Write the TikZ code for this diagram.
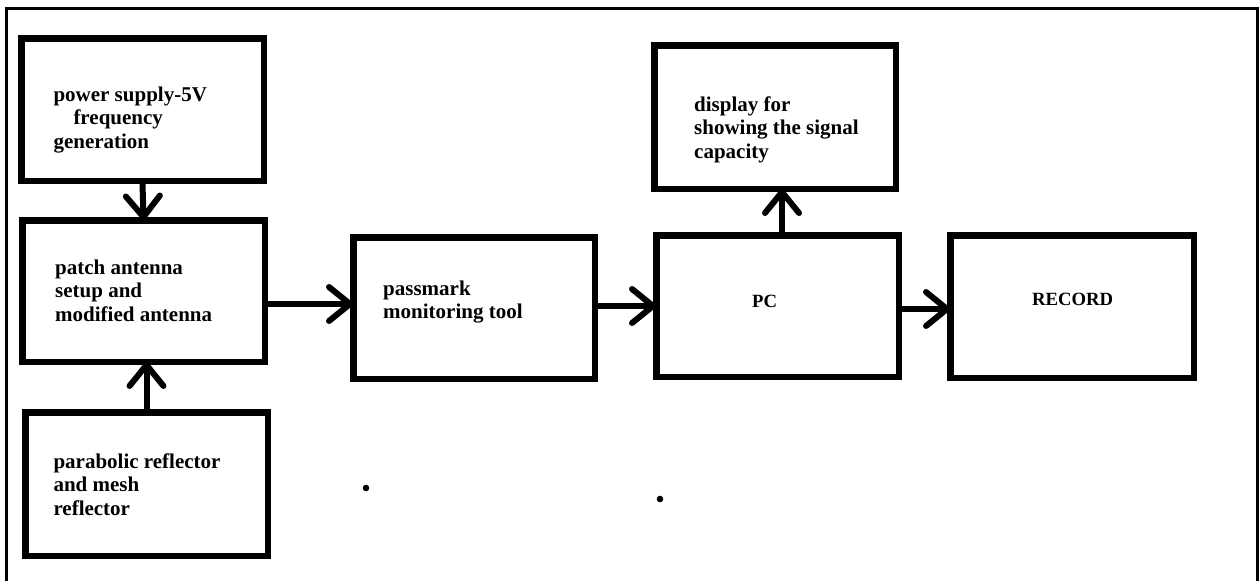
\documentclass[tikz,border=0pt]{standalone}
\usepackage{fontspec}
\setmainfont{Liberation Serif}
\usetikzlibrary{arrows.meta}
\begin{document}
\begin{tikzpicture}[x=1pt,y=-1pt,
  blockbox/.style={draw=black,line width=6.5pt,rectangle,inner sep=0pt,
    minimum width=#1},
  blockbox/.default=242.5pt,
  label text/.style={anchor=base west,inner sep=0pt,
    font=\fontsize{21}{23.5}\selectfont\bfseries},
  small text/.style={anchor=base west,inner sep=0pt,
    font=\fontsize{18.7}{22}\selectfont\bfseries},
  flow/.style={line width=6pt,shorten >=-3pt,
    -{Straight Barb[length=21pt,width=34pt,round]}},
  frame line/.style={line width=3pt}]
  \useasboundingbox (0,0) rectangle (1259,581);

  % outer frame (open at the bottom)
  \draw[frame line] (6,600) -- (6,8.5) -- (1257.5,8.5) -- (1257.5,600);

  % blocks
  \node[blockbox, minimum height=142.5pt] (supply) at (142.5,109.5) {};
  \node[blockbox, minimum height=141.5pt] (patch)  at (143.5,291) {};
  \node[blockbox, minimum height=143.5pt] (refl)   at (146.5,484) {};
  \node[blockbox=241.5pt, minimum height=141.5pt] (pass) at (474,308) {};
  \node[blockbox=241.5pt, minimum height=143.5pt] (disp) at (775,117) {};
  \node[blockbox, minimum height=141.5pt] (pc)     at (777.5,306) {};
  \node[blockbox=243.5pt, minimum height=142.5pt] (rec) at (1072,306.5) {};

  % block texts
  \node[label text] (tsupply) at (53.3,101)
    {\begin{tabular}[t]{@{}l@{}}power supply-5V\\\hspace*{20pt}frequency\\generation\end{tabular}};
  \node[label text] (tpatch) at (55,274)
    {\begin{tabular}[t]{@{}l@{}}patch antenna\\setup and\\modified antenna\end{tabular}};
  \node[label text] (trefl) at (53.3,468)
    {\begin{tabular}[t]{@{}l@{}}parabolic reflector\\and mesh\\reflector\end{tabular}};
  \node[label text] (tpass) at (383,295)
    {\begin{tabular}[t]{@{}l@{}}passmark\\monitoring tool\end{tabular}};
  \node[label text] (tdisp) at (694,111)
    {\begin{tabular}[t]{@{}l@{}}display for\\showing the signal\\capacity\end{tabular}};
  \node[small text] (tpc) at (752,307) {PC};
  \node[small text] (trec) at (1032,305) {RECORD};

  % connector levels
  \coordinate (lvA) at (0,304);
  \coordinate (lvB) at (0,309);
  \coordinate (lvC) at (782,0);

  % connectors
  \draw[flow] (supply.south) -- (patch.north);
  \draw[flow] (refl.north) -- (refl.north |- patch.south);
  \draw[flow] (patch.east |- lvA) -- (pass.west |- lvA);
  \draw[flow] (pass.east |- pc.west) -- (pc.west);
  \draw[flow] (pc.east |- lvB) -- (rec.west |- lvB);
  \draw[flow] (pc.north -| lvC) -- (disp.south -| lvC);

  % stray dots
  \fill (366,488) circle (3.3pt);
  \fill (660,499) circle (3.3pt);
\end{tikzpicture}
\end{document}
